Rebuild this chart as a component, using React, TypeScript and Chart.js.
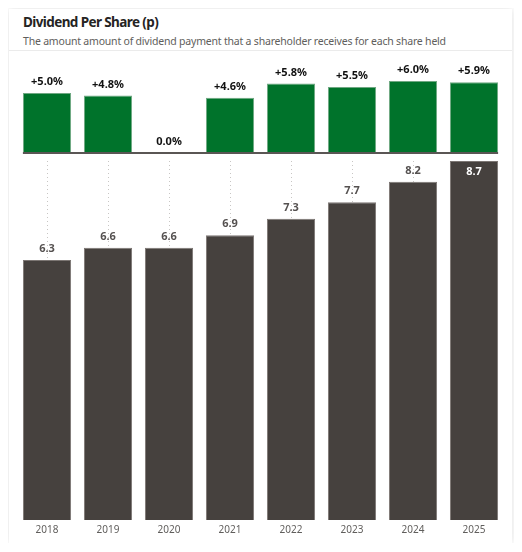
import React, { useEffect, useRef } from "react";
import { Chart, registerables } from "chart.js";

Chart.register(...registerables);

const years = ["2018", "2019", "2020", "2021", "2022", "2023", "2024", "2025"];
const growthPct = [5.0, 4.8, 0.0, 4.6, 5.8, 5.5, 6.0, 5.9];
const dividendPence = [6.3, 6.6, 6.6, 6.9, 7.3, 7.7, 8.2, 8.7];

const FONT = "'Noto Sans', 'Open Sans', sans-serif";

const labelPlugin = {
  id: "barLabels",
  afterDatasetsDraw(chart: any, _args: any, opts: any) {
    const { ctx, chartArea } = chart;
    const meta = chart.getDatasetMeta(0);
    const data = chart.data.datasets[0].data as number[];
    ctx.save();
    ctx.font = opts.font;
    ctx.textAlign = "center";
    ctx.textBaseline = "middle";
    meta.data.forEach((bar: any, i: number) => {
      const text = opts.format(data[i]);
      let y = bar.y - opts.offset;
      let color = opts.color;
      if (y - 7 < chartArea.top - (opts.allowAbove || 0)) {
        y = bar.y + opts.offset;
        color = opts.insideColor;
      }
      ctx.fillStyle = color;
      ctx.fillText(text, bar.x, y);
    });
    ctx.restore();
  },
};

const baselinePlugin = {
  id: "baseline",
  afterDatasetsDraw(chart: any, _args: any, opts: any) {
    if (!opts || !opts.enabled) return;
    const { ctx } = chart;
    const meta = chart.getDatasetMeta(0);
    const first = meta.data[0];
    const last = meta.data[meta.data.length - 1];
    const y = chart.scales.y.getPixelForValue(0);
    ctx.save();
    ctx.strokeStyle = opts.color;
    ctx.lineWidth = opts.width;
    ctx.beginPath();
    ctx.moveTo(first.x - first.width / 2, y);
    ctx.lineTo(last.x + last.width / 2, y);
    ctx.stroke();
    ctx.restore();
  },
};

function GrowthChart() {
  const ref = useRef<HTMLCanvasElement>(null);
  useEffect(() => {
    const chart = new Chart(ref.current!, {
      type: "bar",
      data: {
        labels: years,
        datasets: [
          {
            data: growthPct,
            backgroundColor: "#00732B",
            borderColor: "#6FA882",
            borderWidth: 1,
            barPercentage: 0.79,
            categoryPercentage: 1,
          },
        ],
      },
      options: {
        animation: false,
        responsive: false,
        maintainAspectRatio: false,
        layout: { padding: { left: 7.5, right: 7.5, top: 10, bottom: 1 } },
        scales: {
          x: { display: false },
          y: { display: false, min: 0, max: 7.25 },
        },
        plugins: {
          legend: { display: false },
          tooltip: { enabled: false },
          barLabels: {
            font: `bold 11px ${FONT}`,
            color: "#111111",
            insideColor: "#ffffff",
            offset: 11,
            allowAbove: 20,
            format: (v: number) => (v > 0 ? "+" : "") + v.toFixed(1) + "%",
          },
          baseline: { enabled: true, color: "#5a5654", width: 2 },
        } as any,
      },
      plugins: [labelPlugin, baselinePlugin],
    });
    return () => chart.destroy();
  }, []);
  return (
    <canvas
      ref={ref}
      width={503}
      height={98}
      style={{ position: "absolute", left: 0, top: 47, width: 503, height: 98 }}
    />
  );
}

function DividendChart() {
  const ref = useRef<HTMLCanvasElement>(null);
  useEffect(() => {
    const chart = new Chart(ref.current!, {
      type: "bar",
      data: {
        labels: years,
        datasets: [
          {
            data: dividendPence,
            backgroundColor: "#46413E",
            borderColor: "#7C7673",
            borderWidth: 1,
            barPercentage: 0.79,
            categoryPercentage: 1,
          },
        ],
      },
      options: {
        animation: false,
        responsive: false,
        maintainAspectRatio: false,
        layout: { padding: { left: 7.5, right: 7.5, top: 5, bottom: 0 } },
        scales: {
          x: {
            grid: {
              display: true,
              offset: false,
              drawTicks: false,
              color: "#c8c6c4",
              lineWidth: 1,
            },
            border: { display: false, dash: [1, 3] },
            ticks: {
              padding: 4,
              color: "#605E5C",
              font: { family: FONT, size: 10 },
            },
          },
          y: { display: false, min: 0, max: 8.7 },
        },
        plugins: {
          legend: { display: false },
          tooltip: { enabled: false },
          barLabels: {
            font: `bold 11px ${FONT}`,
            color: "#555150",
            insideColor: "#ffffff",
            offset: 11,
            allowAbove: 0,
            format: (v: number) => v.toFixed(1),
          },
          baseline: { enabled: false },
        } as any,
      },
      plugins: [labelPlugin, baselinePlugin],
    });
    return () => chart.destroy();
  }, []);
  return (
    <canvas
      ref={ref}
      width={503}
      height={384}
      style={{ position: "absolute", left: 0, top: 147, width: 503, height: 384 }}
    />
  );
}

export default function App() {
  return (
    <div
      style={{
        position: "relative",
        marginLeft: 1,
        marginTop: 1,
        width: 503,
        height: 534,
        background: "#ffffff",
        boxShadow: "0 0 8px rgba(0,0,0,0.13)",
        fontFamily: FONT,
      }}
    >
      <div
        style={{
          position: "absolute",
          left: 14,
          top: 4,
          fontSize: 13.5,
          lineHeight: "18px",
          fontWeight: 700,
          letterSpacing: "-0.6px",
          color: "#252423",
          whiteSpace: "nowrap",
        }}
      >
        Dividend Per Share (p)
      </div>
      <div
        style={{
          position: "absolute",
          left: 14,
          top: 24,
          fontSize: 10.5,
          lineHeight: "16px",
          letterSpacing: "-0.2px",
          color: "#605E5C",
          whiteSpace: "nowrap",
        }}
      >
        The amount amount of dividend payment that a shareholder receives for each share held
      </div>
      <div
        style={{
          position: "absolute",
          left: 0,
          top: 41,
          width: 503,
          height: 1,
          background: "#ebebeb",
        }}
      />
      <GrowthChart />
      <DividendChart />
    </div>
  );
}
